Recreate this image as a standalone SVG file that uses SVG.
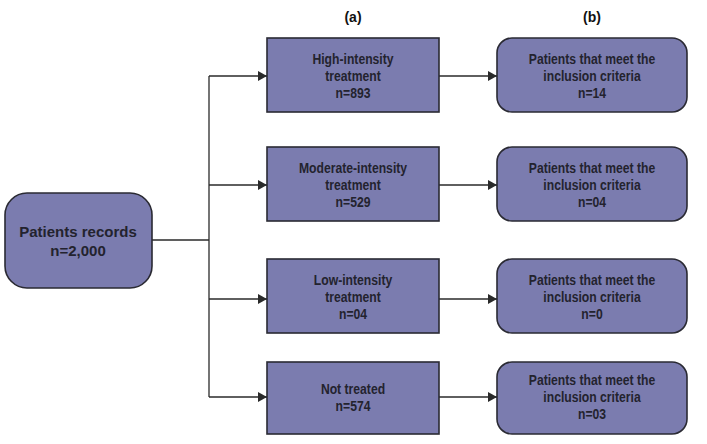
<svg xmlns="http://www.w3.org/2000/svg" width="707" height="444" viewBox="0 0 707 444">
<style>
.box{fill:#7b7caf;stroke:#2a2a33;stroke-width:1.6}
.t{font-family:"Liberation Sans",Arial,sans-serif;font-weight:bold;font-size:14.5px;fill:#23232e;text-anchor:middle}
.big{font-family:"Liberation Sans",Arial,sans-serif;font-weight:bold;font-size:15px;fill:#23232e;text-anchor:middle}
.hdr{font-family:"Liberation Sans",Arial,sans-serif;font-weight:bold;font-size:14px;fill:#111;text-anchor:middle}
.c{fill:none;stroke:#2a2a2a;stroke-width:1.3}
</style>
<defs>
<marker id="ah" viewBox="0 0 10 10" refX="10" refY="5" markerWidth="9" markerHeight="10" markerUnits="userSpaceOnUse" orient="auto" preserveAspectRatio="none">
<path d="M0,0 L10,5 L0,10 z" fill="#2a2a2a"/>
</marker>
</defs>
<text class="hdr" x="353" y="22">(a)</text>
<text class="hdr" x="592" y="22">(b)</text>
<g id="connectors">
<path class="c" d="M152,240 H209"/>
<path class="c" d="M209,76 V397"/>
<path class="c" d="M209,76 H267" marker-end="url(#ah)"/>
<path class="c" d="M209,185 H267" marker-end="url(#ah)"/>
<path class="c" d="M209,299 H267" marker-end="url(#ah)"/>
<path class="c" d="M209,397 H267" marker-end="url(#ah)"/>
<path class="c" d="M439,76 H497" marker-end="url(#ah)"/>
<path class="c" d="M439,185 H497" marker-end="url(#ah)"/>
<path class="c" d="M439,299 H497" marker-end="url(#ah)"/>
<path class="c" d="M439,397 H497" marker-end="url(#ah)"/>
</g>
<g id="records">
<rect class="box" x="5" y="193" width="147" height="95" rx="22"/>
<text class="big" x="78" y="237">Patients records</text>
<text class="big" x="78" y="256">n=2,000</text>
</g>
<g id="high">
<rect class="box" x="267" y="38" width="172" height="74"/>
<g transform="translate(353 0) scale(0.84 1)">
<text class="t" x="0" y="64">High-intensity</text>
<text class="t" x="0" y="81">treatment</text>
<text class="t" x="0" y="98">n=893</text>
</g>
</g>
<g id="moderate">
<rect class="box" x="267" y="147" width="172" height="74"/>
<g transform="translate(353 0) scale(0.84 1)">
<text class="t" x="0" y="173">Moderate-intensity</text>
<text class="t" x="0" y="190">treatment</text>
<text class="t" x="0" y="207">n=529</text>
</g>
</g>
<g id="low">
<rect class="box" x="267" y="259" width="172" height="74"/>
<g transform="translate(353 0) scale(0.84 1)">
<text class="t" x="0" y="285">Low-intensity</text>
<text class="t" x="0" y="302">treatment</text>
<text class="t" x="0" y="319">n=04</text>
</g>
</g>
<g id="nottreated">
<rect class="box" x="267" y="362" width="172" height="72"/>
<g transform="translate(353 0) scale(0.84 1)">
<text class="t" x="0" y="394">Not treated</text>
<text class="t" x="0" y="411">n=574</text>
</g>
</g>
<g id="incl1">
<rect class="box" x="497" y="38" width="190" height="74" rx="15"/>
<g transform="translate(592 0) scale(0.84 1)">
<text class="t" x="0" y="64">Patients that meet the</text>
<text class="t" x="0" y="81">inclusion criteria</text>
<text class="t" x="0" y="98">n=14</text>
</g>
</g>
<g id="incl2">
<rect class="box" x="497" y="147" width="190" height="74" rx="15"/>
<g transform="translate(592 0) scale(0.84 1)">
<text class="t" x="0" y="173">Patients that meet the</text>
<text class="t" x="0" y="190">inclusion criteria</text>
<text class="t" x="0" y="207">n=04</text>
</g>
</g>
<g id="incl3">
<rect class="box" x="497" y="259" width="190" height="74" rx="15"/>
<g transform="translate(592 0) scale(0.84 1)">
<text class="t" x="0" y="285">Patients that meet the</text>
<text class="t" x="0" y="302">inclusion criteria</text>
<text class="t" x="0" y="319">n=0</text>
</g>
</g>
<g id="incl4">
<rect class="box" x="497" y="362" width="190" height="72" rx="15"/>
<g transform="translate(592 0) scale(0.84 1)">
<text class="t" x="0" y="385">Patients that meet the</text>
<text class="t" x="0" y="402">inclusion criteria</text>
<text class="t" x="0" y="419">n=03</text>
</g>
</g>
</svg>
